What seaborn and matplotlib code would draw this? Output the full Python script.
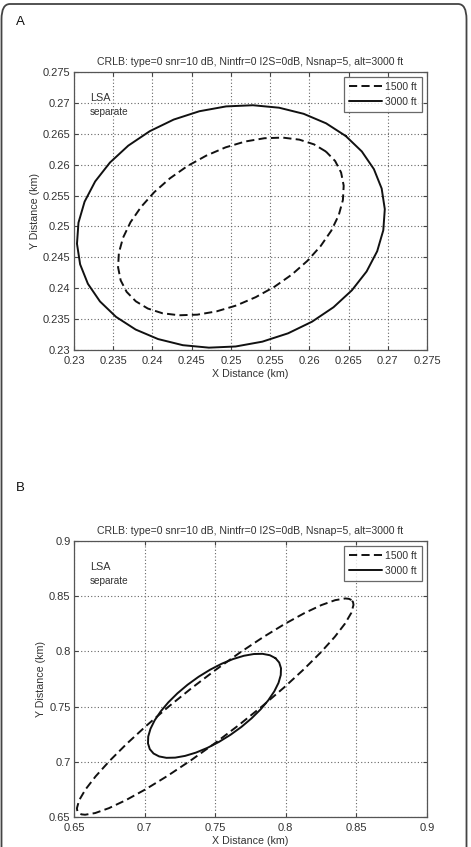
import matplotlib
matplotlib.use("Agg")
import matplotlib.pyplot as plt
import seaborn as sns
import pandas as pd
from matplotlib.patches import FancyBboxPatch

# ---------------- data ----------------
title_text = "CRLB: type=0 snr=10 dB, Nintfr=0 I2S=0dB, Nsnap=5, alt=3000 ft"
series_names = ["1500 ft", "3000 ft"]

# Panel A
a_xticks = [0.23, 0.235, 0.24, 0.245, 0.25, 0.255, 0.26, 0.265, 0.27, 0.275]
a_xticklabels = ["0.23", "0.235", "0.24", "0.245", "0.25", "0.255", "0.26", "0.265", "0.27", "0.275"]
a_yticks = a_xticks
a_yticklabels = a_xticklabels

a_1500_x = [0.26212, 0.26059, 0.25873, 0.25661, 0.25428, 0.25183, 0.24932, 0.24684, 0.24444,
            0.24222, 0.24024, 0.23855, 0.23720, 0.23625, 0.23572, 0.23562, 0.23595, 0.23671,
            0.23788, 0.23941, 0.24127, 0.24339, 0.24572, 0.24817, 0.25068, 0.25316, 0.25556,
            0.25778, 0.25976, 0.26145, 0.26280, 0.26375, 0.26428, 0.26438, 0.26405, 0.26329]
a_1500_y = [0.26212, 0.26329, 0.26405, 0.26438, 0.26428, 0.26375, 0.26280, 0.26145, 0.25976,
            0.25778, 0.25556, 0.25316, 0.25068, 0.24817, 0.24572, 0.24339, 0.24127, 0.23941,
            0.23788, 0.23671, 0.23595, 0.23562, 0.23572, 0.23625, 0.23720, 0.23855, 0.24024,
            0.24222, 0.24444, 0.24684, 0.24932, 0.25183, 0.25428, 0.25661, 0.25873, 0.26059]

a_3000_x = [0.26464, 0.26214, 0.25928, 0.25614, 0.25280, 0.24939, 0.24599, 0.24271, 0.23966,
            0.23692, 0.23458, 0.23270, 0.23135, 0.23057, 0.23038, 0.23078, 0.23177, 0.23331,
            0.23536, 0.23786, 0.24072, 0.24387, 0.24720, 0.25061, 0.25401, 0.25729, 0.26034,
            0.26308, 0.26542, 0.26730, 0.26865, 0.26943, 0.26962, 0.26922, 0.26823, 0.26669]
a_3000_y = [0.26464, 0.26669, 0.26823, 0.26922, 0.26962, 0.26943, 0.26865, 0.26730, 0.26542,
            0.26308, 0.26034, 0.25729, 0.25401, 0.25061, 0.24720, 0.24387, 0.24072, 0.23786,
            0.23536, 0.23331, 0.23177, 0.23078, 0.23038, 0.23057, 0.23135, 0.23270, 0.23458,
            0.23692, 0.23966, 0.24271, 0.24599, 0.24939, 0.25280, 0.25614, 0.25928, 0.26214]

# Panel B
b_xticks = [0.65, 0.7, 0.75, 0.8, 0.85, 0.9]
b_xticklabels = ["0.65", "0.7", "0.75", "0.8", "0.85", "0.9"]
b_yticks = b_xticks
b_yticklabels = b_xticklabels

b_1500_x = [0.84652, 0.84469, 0.84215, 0.83498, 0.82522, 0.81318, 0.79923, 0.78377, 0.76729,
            0.75028, 0.73327, 0.71676, 0.70127, 0.68725, 0.67514, 0.66531, 0.65804, 0.65358,
            0.65205, 0.65239, 0.65348, 0.65531, 0.65785, 0.66502, 0.67478, 0.68682, 0.70077,
            0.71623, 0.73271, 0.74972, 0.76673, 0.78324, 0.79873, 0.81275, 0.82486, 0.83469,
            0.84196, 0.84642, 0.84795, 0.84761]
b_1500_y = [0.84652, 0.84761, 0.84795, 0.84642, 0.84196, 0.83469, 0.82486, 0.81275, 0.79873,
            0.78324, 0.76673, 0.74972, 0.73271, 0.71623, 0.70077, 0.68682, 0.67478, 0.66502,
            0.65785, 0.65531, 0.65348, 0.65239, 0.65205, 0.65358, 0.65804, 0.66531, 0.67514,
            0.68725, 0.70127, 0.71676, 0.73327, 0.75028, 0.76729, 0.78377, 0.79923, 0.81318,
            0.82522, 0.83498, 0.84215, 0.84469]

b_3000_x = [0.79268, 0.78871, 0.78355, 0.77735, 0.77031, 0.76264, 0.75457, 0.74634, 0.73821,
            0.73042, 0.72322, 0.71681, 0.71139, 0.70713, 0.70416, 0.70257, 0.70240, 0.70367,
            0.70632, 0.71029, 0.71545, 0.72165, 0.72869, 0.73636, 0.74443, 0.75266, 0.76079,
            0.76858, 0.77578, 0.78219, 0.78761, 0.79187, 0.79484, 0.79643, 0.79660, 0.79533]
b_3000_y = [0.79388, 0.79653, 0.79780, 0.79763, 0.79604, 0.79307, 0.78881, 0.78339, 0.77698,
            0.76978, 0.76199, 0.75386, 0.74563, 0.73756, 0.72989, 0.72285, 0.71665, 0.71149,
            0.70752, 0.70487, 0.70360, 0.70377, 0.70536, 0.70833, 0.71259, 0.71801, 0.72442,
            0.73162, 0.73941, 0.74754, 0.75577, 0.76384, 0.77151, 0.77855, 0.78475, 0.78991]

# ---------------- style ----------------
sns.set_style("ticks")
plt.rcParams["font.family"] = ["Liberation Sans", "DejaVu Sans"]
txt = "#333333"

fig = plt.figure(figsize=(4.71, 8.47), dpi=100)

# rounded page border (bottom edge runs off the bottom of the image)
border = FancyBboxPatch((1.5 / 471, -20 / 847), 465 / 471, 863 / 847,
                        boxstyle="round,pad=0,rounding_size=0.018",
                        transform=fig.transFigure, fill=False,
                        edgecolor="#444444", linewidth=1.3, zorder=0,
                        clip_on=False)
fig.patches.append(border)


def make_panel(rect, xs1, ys1, xs2, ys2, ticks, ticklabels, label, label_y):
    ax = fig.add_axes(rect)
    df1 = pd.DataFrame({"x": xs1 + [xs1[0]], "y": ys1 + [ys1[0]]})
    df2 = pd.DataFrame({"x": xs2 + [xs2[0]], "y": ys2 + [ys2[0]]})
    sns.lineplot(data=df1, x="x", y="y", sort=False, estimator=None, ax=ax,
                 color="#111111", linewidth=1.4, linestyle=(0, (4.2, 2.2)),
                 label=series_names[0])
    sns.lineplot(data=df2, x="x", y="y", sort=False, estimator=None, ax=ax,
                 color="#111111", linewidth=1.4, linestyle="-",
                 label=series_names[1])
    ax.set_xlim(ticks[0], ticks[-1])
    ax.set_ylim(ticks[0], ticks[-1])
    ax.set_xticks(ticks)
    ax.set_yticks(ticks)
    ax.set_xticklabels(ticklabels)
    ax.set_yticklabels(ticklabels)
    ax.tick_params(direction="in", length=3, width=0.8, top=True, right=True,
                   labelsize=8, colors="#444444", labelcolor=txt)
    ax.tick_params(axis="x", pad=4)
    ax.tick_params(axis="y", pad=2.5)
    ax.grid(True, linestyle=(0, (1, 2)), color="#666666", linewidth=0.8)
    for s in ax.spines.values():
        s.set_color("#555555")
        s.set_linewidth(0.9)
    ax.set_xlabel("X Distance (km)", fontsize=7.7, color=txt, labelpad=2.5)
    ax.set_ylabel("Y Distance (km)", fontsize=7.7, color=txt, labelpad=2)
    ax.set_title(title_text, fontsize=7.6, color=txt, pad=5)
    leg = ax.legend(loc="upper right", fontsize=7.5, frameon=True, fancybox=False,
                    edgecolor="#444444", handlelength=3.15, handletextpad=0.3,
                    borderpad=0.5, labelspacing=0.45, borderaxespad=0.45)
    leg.get_frame().set_linewidth(0.9)
    for t in leg.get_texts():
        t.set_color(txt)
    ax.text(0.045, 0.905, "LSA", transform=ax.transAxes, fontsize=7.8, color=txt,
            va="center", ha="left")
    ax.text(0.045, 0.855, "separate", transform=ax.transAxes, fontsize=7.2, color=txt,
            va="center", ha="left")
    fig.text(16 / 471, 1 - label_y / 847, label, fontsize=9.5, color="#111111",
             va="center", ha="left")
    return ax


make_panel([74 / 471, 1 - 350 / 847, 353 / 471, 278 / 847],
           a_1500_x, a_1500_y, a_3000_x, a_3000_y,
           a_xticks, a_xticklabels, "A", 22)
make_panel([74 / 471, 1 - 817 / 847, 353 / 471, 276 / 847],
           b_1500_x, b_1500_y, b_3000_x, b_3000_y,
           b_xticks, b_xticklabels, "B", 488)

fig.savefig("out.png", dpi=100)
